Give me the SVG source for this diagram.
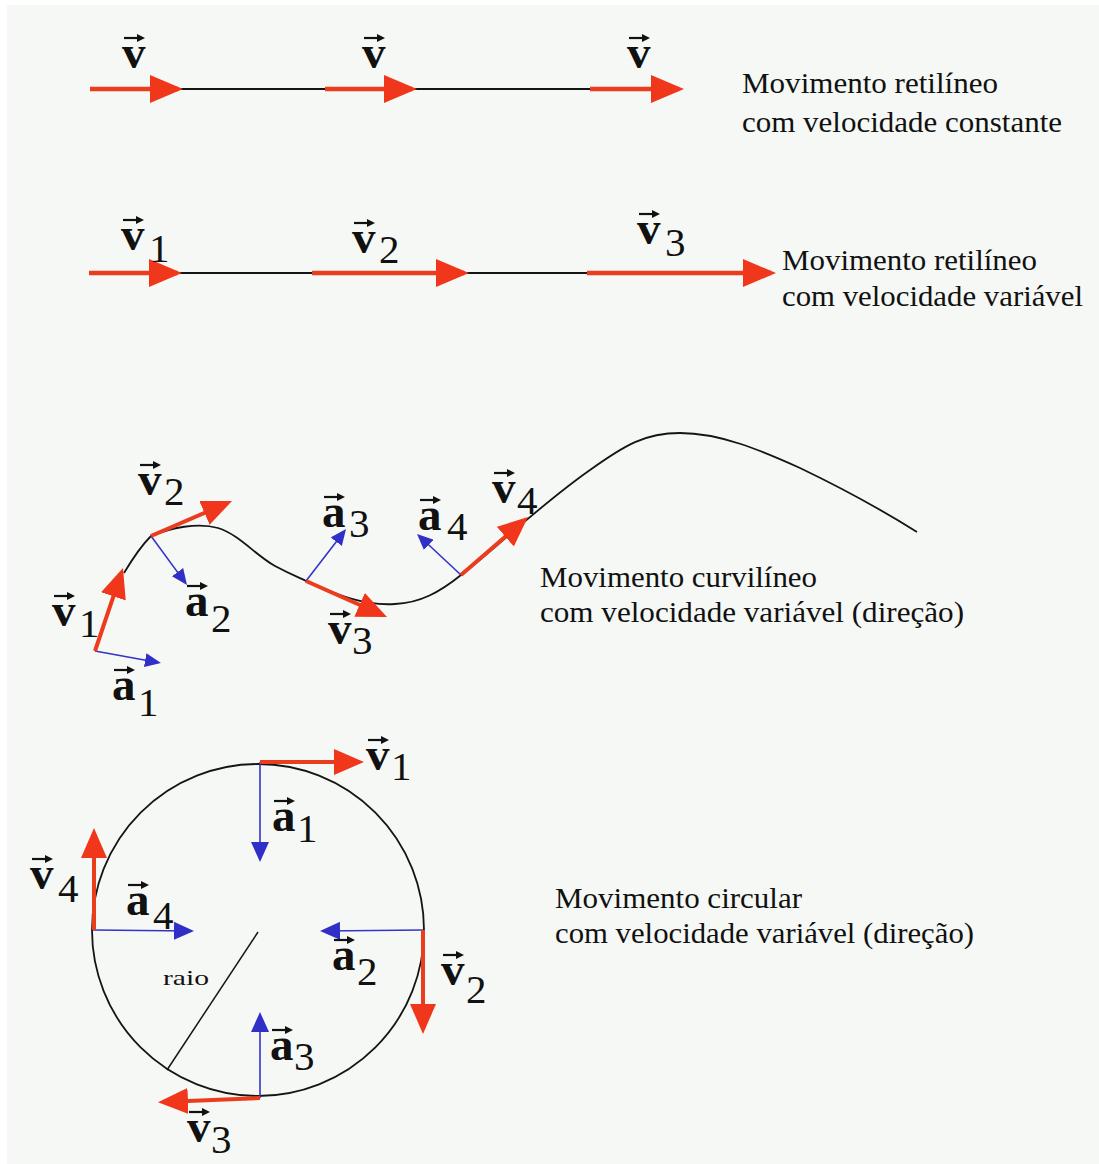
<svg xmlns="http://www.w3.org/2000/svg" xmlns:xlink="http://www.w3.org/1999/xlink" width="1099" height="1164" viewBox="0 0 1099 1164">
<style>
.bl{stroke:#151515;stroke-width:2;fill:none}
.rs{stroke:#ec3c1e;stroke-width:4.5;fill:none}
.bs{stroke:#3434c6;stroke-width:1.6;fill:none}
.vec{font-family:"Liberation Serif",serif;font-weight:bold;font-size:47px;fill:#111}
.sub{font-family:"Liberation Serif",serif;font-size:41px;fill:#111}
.desc{font-family:"Liberation Serif",serif;font-size:30px;fill:#111}
.small{font-family:"Liberation Serif",serif;font-size:22px;fill:#111}
</style>
<defs>
<marker id="rh" viewBox="0 0 33 28" markerWidth="33" markerHeight="28" refX="28" refY="14" orient="auto" markerUnits="userSpaceOnUse"><path d="M0,0 L33,14 L0,28z" fill="#f0361b"/></marker>
<marker id="rh2" viewBox="0 0 30 26" markerWidth="30" markerHeight="26" refX="25" refY="13" orient="auto" markerUnits="userSpaceOnUse"><path d="M0,0 L30,13 L0,26z" fill="#f0361b"/></marker>
<marker id="bh" viewBox="0 0 20 18" markerWidth="20" markerHeight="18" refX="17" refY="9" orient="auto" markerUnits="userSpaceOnUse"><path d="M0,0 L20,9 L0,18z" fill="#3030c8"/></marker>
<marker id="bh2" viewBox="0 0 16 14" markerWidth="16" markerHeight="14" refX="13" refY="7" orient="auto" markerUnits="userSpaceOnUse"><path d="M0,0 L16,7 L0,14z" fill="#3030c8"/></marker>
<g id="oa"><path d="M0,0 H16" stroke="#111" stroke-width="2.2"/><path d="M13,-4 L21,0 L13,4z" fill="#111"/></g>
</defs>
<rect width="1099" height="1164" fill="#ffffff"/>
<rect x="7" y="5" width="1092" height="1159" fill="#f6f8f5"/>

<g id="connectors">
  <!-- row 1 -->
  <line class="bl" x1="180" y1="89" x2="328" y2="89"/>
  <line class="bl" x1="414" y1="89" x2="592" y2="89"/>
  <line class="rs" x1="90" y1="89" x2="178" y2="89" marker-end="url(#rh)"/>
  <line class="rs" x1="325" y1="89" x2="412" y2="89" marker-end="url(#rh)"/>
  <line class="rs" x1="590" y1="89" x2="679" y2="89" marker-end="url(#rh)"/>
  <!-- row 2 -->
  <line class="bl" x1="178" y1="273" x2="314" y2="273"/>
  <line class="bl" x1="465" y1="273" x2="589" y2="273"/>
  <line class="rs" x1="89" y1="273" x2="177" y2="273" marker-end="url(#rh)"/>
  <line class="rs" x1="312" y1="273" x2="464" y2="273" marker-end="url(#rh)"/>
  <line class="rs" x1="587" y1="273" x2="771" y2="273" marker-end="url(#rh)"/>
  <!-- curve -->
  <path class="bl" style="stroke-width:1.8" d="M124,573 C133,558 142,545 151,536 C170,528 198,522 218,528 C240,535 255,555 275,566 C292,575 300,578 306,581 C340,596 365,606 395,604 C420,603 440,592 461,575 C495,549 540,505 590,470 C625,445 645,433 680,433 C720,433 760,450 800,468 C850,492 890,515 917,532"/>
  <line class="bs" x1="95" y1="651" x2="158" y2="662.5" marker-end="url(#bh2)"/>
  <line class="bs" x1="151" y1="536" x2="185.2" y2="582.6" marker-end="url(#bh2)"/>
  <line class="bs" x1="306" y1="581" x2="344.2" y2="531.4" marker-end="url(#bh2)"/>
  <line class="bs" x1="461" y1="575" x2="419.2" y2="536" marker-end="url(#bh2)"/>
  <line class="rs" style="stroke-width:4" x1="95" y1="651" x2="121.4" y2="572.7" marker-end="url(#rh2)"/>
  <line class="rs" style="stroke-width:4" x1="151" y1="536" x2="227.4" y2="503" marker-end="url(#rh2)"/>
  <line class="rs" style="stroke-width:4" x1="306" y1="581" x2="382.4" y2="615" marker-end="url(#rh2)"/>
  <line class="rs" style="stroke-width:4" x1="461" y1="575" x2="524.2" y2="520.3" marker-end="url(#rh2)"/>
  <!-- circle -->
  <circle class="bl" style="stroke-width:1.8" cx="258" cy="930" r="166"/>
  <line class="bl" style="stroke-width:1.5" x1="258" y1="932" x2="167" y2="1070"/>
  <line class="bs" x1="260" y1="762" x2="260" y2="859" marker-end="url(#bh)"/>
  <line class="bs" x1="423" y1="930" x2="323" y2="931" marker-end="url(#bh)"/>
  <line class="bs" x1="260" y1="1098" x2="260" y2="1015" marker-end="url(#bh)"/>
  <line class="bs" x1="93" y1="930" x2="191" y2="931" marker-end="url(#bh)"/>
  <line class="rs" style="stroke-width:4" x1="260" y1="762" x2="359" y2="762" marker-end="url(#rh2)"/>
  <line class="rs" style="stroke-width:4" x1="423" y1="930" x2="423" y2="1029" marker-end="url(#rh2)"/>
  <line class="rs" style="stroke-width:4" x1="260" y1="1098" x2="163" y2="1102" marker-end="url(#rh2)"/>
  <line class="rs" style="stroke-width:4" x1="94" y1="930" x2="94" y2="833" marker-end="url(#rh2)"/>
</g>

<!-- row 1 labels -->
<g id="r1-v1"><text class="vec" x="122" y="68">v</text><use xlink:href="#oa" x="124" y="38"/></g>
<g id="r1-v2"><text class="vec" x="362" y="68">v</text><use xlink:href="#oa" x="364" y="38"/></g>
<g id="r1-v3"><text class="vec" x="627" y="68">v</text><use xlink:href="#oa" x="629" y="38"/></g>
<g id="r1-text"><text class="desc" x="742" y="93" textLength="256" lengthAdjust="spacingAndGlyphs">Movimento retilíneo</text><text class="desc" x="742" y="132" textLength="320" lengthAdjust="spacingAndGlyphs">com velocidade constante</text></g>

<!-- row 2 labels -->
<g id="r2-v1"><text class="vec" x="121" y="250">v</text><use xlink:href="#oa" x="123" y="220"/><text class="sub" x="149" y="262">1</text></g>
<g id="r2-v2"><text class="vec" x="352" y="253">v</text><use xlink:href="#oa" x="354" y="223"/><text class="sub" x="379" y="263">2</text></g>
<g id="r2-v3"><text class="vec" x="637" y="244">v</text><use xlink:href="#oa" x="639" y="214"/><text class="sub" x="665" y="256">3</text></g>
<g id="r2-text"><text class="desc" x="782" y="270" textLength="255" lengthAdjust="spacingAndGlyphs">Movimento retilíneo</text><text class="desc" x="782" y="306" textLength="301" lengthAdjust="spacingAndGlyphs">com velocidade variável</text></g>

<!-- curve labels -->
<g id="c-v1"><text class="vec" x="52" y="626">v</text><use xlink:href="#oa" x="54" y="596"/><text class="sub" x="79" y="637">1</text></g>
<g id="c-a1"><text class="vec" x="112" y="700">a</text><use xlink:href="#oa" x="114" y="670"/><text class="sub" x="138" y="716">1</text></g>
<g id="c-v2"><text class="vec" x="138" y="495">v</text><use xlink:href="#oa" x="140" y="465"/><text class="sub" x="164" y="505">2</text></g>
<g id="c-a2"><text class="vec" x="185" y="616">a</text><use xlink:href="#oa" x="187" y="586"/><text class="sub" x="211" y="632">2</text></g>
<g id="c-a3"><text class="vec" x="322" y="527">a</text><use xlink:href="#oa" x="324" y="497"/><text class="sub" x="349" y="537">3</text></g>
<g id="c-v3"><text class="vec" x="328" y="644">v</text><use xlink:href="#oa" x="330" y="614"/><text class="sub" x="352" y="654">3</text></g>
<g id="c-a4"><text class="vec" x="418" y="530">a</text><use xlink:href="#oa" x="420" y="500"/><text class="sub" x="447" y="540">4</text></g>
<g id="c-v4"><text class="vec" x="492" y="503">v</text><use xlink:href="#oa" x="494" y="473"/><text class="sub" x="517" y="514">4</text></g>
<g id="c-text"><text class="desc" x="540" y="587" textLength="277" lengthAdjust="spacingAndGlyphs">Movimento curvilíneo</text><text class="desc" x="540" y="622" textLength="424" lengthAdjust="spacingAndGlyphs">com velocidade variável (direção)</text></g>

<!-- circle labels -->
<g id="o-v1"><text class="vec" x="366" y="770">v</text><use xlink:href="#oa" x="368" y="740"/><text class="sub" x="391" y="780">1</text></g>
<g id="o-a1"><text class="vec" x="272" y="831">a</text><use xlink:href="#oa" x="274" y="801"/><text class="sub" x="297" y="842">1</text></g>
<g id="o-v2"><text class="vec" x="441" y="985">v</text><use xlink:href="#oa" x="443" y="955"/><text class="sub" x="466" y="1003">2</text></g>
<g id="o-a2"><text class="vec" x="332" y="970">a</text><use xlink:href="#oa" x="334" y="940"/><text class="sub" x="357" y="985">2</text></g>
<g id="o-v3"><text class="vec" x="187" y="1142">v</text><use xlink:href="#oa" x="189" y="1112"/><text class="sub" x="211" y="1153">3</text></g>
<g id="o-a3"><text class="vec" x="270" y="1060">a</text><use xlink:href="#oa" x="272" y="1030"/><text class="sub" x="294" y="1070">3</text></g>
<g id="o-v4"><text class="vec" x="30" y="889">v</text><use xlink:href="#oa" x="32" y="859"/><text class="sub" x="58" y="902">4</text></g>
<g id="o-a4"><text class="vec" x="126" y="915">a</text><use xlink:href="#oa" x="128" y="885"/><text class="sub" x="153" y="929">4</text></g>
<g id="o-raio"><text class="small" x="163" y="985" textLength="46" lengthAdjust="spacingAndGlyphs">raio</text></g>
<g id="o-text"><text class="desc" x="555" y="908" textLength="247" lengthAdjust="spacingAndGlyphs">Movimento circular</text><text class="desc" x="555" y="943" textLength="419" lengthAdjust="spacingAndGlyphs">com velocidade variável (direção)</text></g>
</svg>
